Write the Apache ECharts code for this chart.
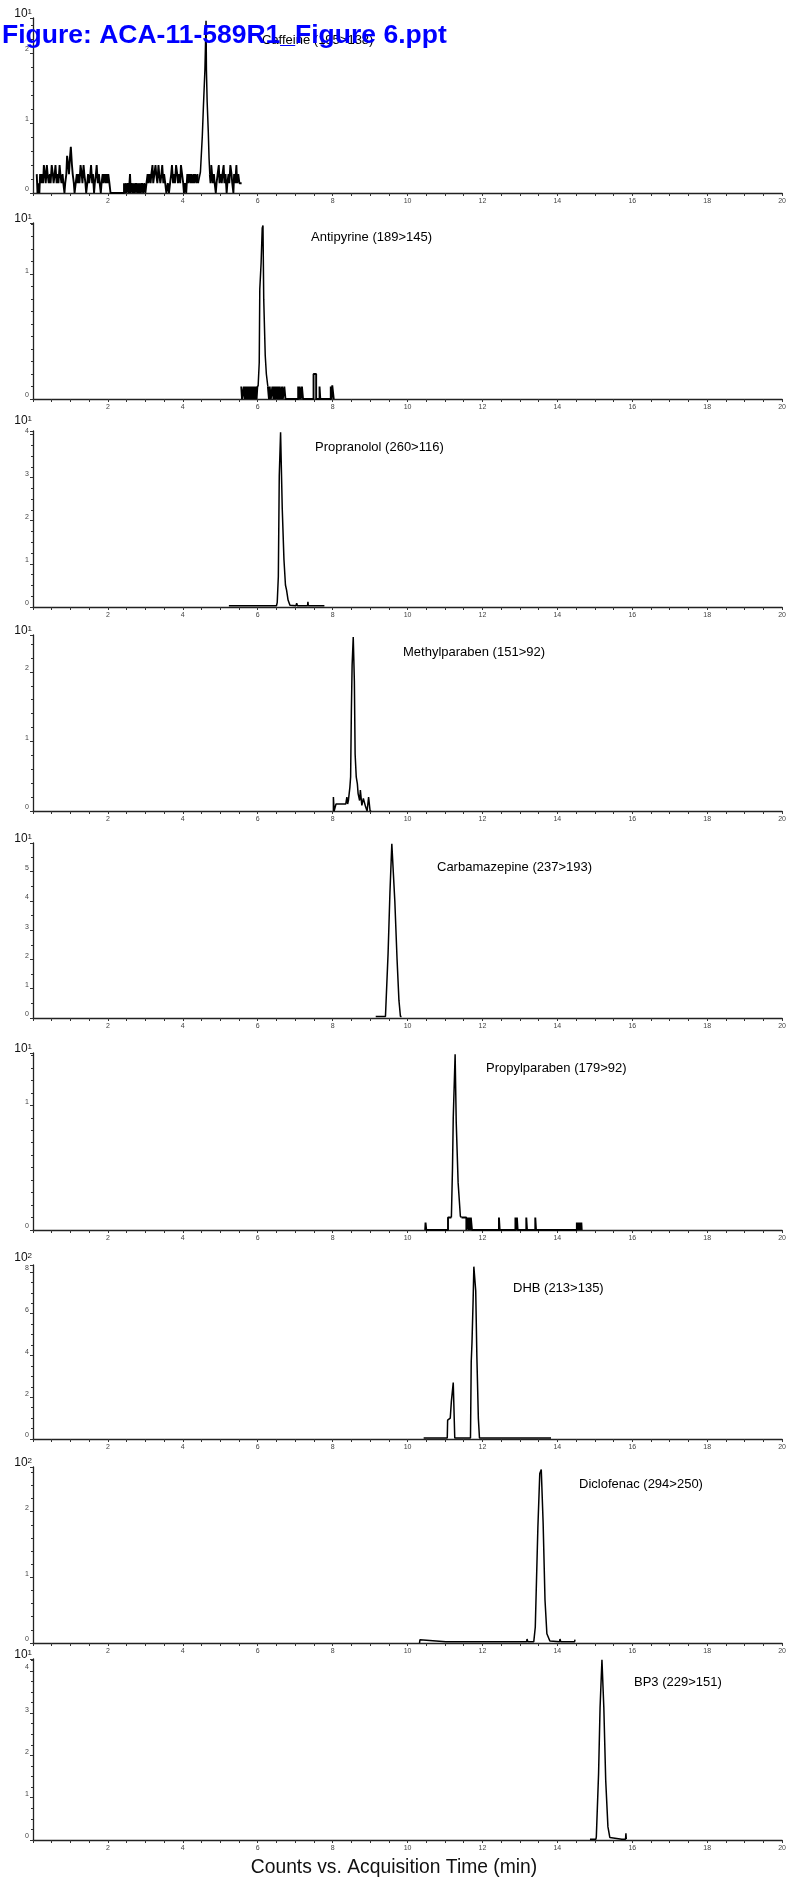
<!DOCTYPE html>
<html>
<head>
<meta charset="utf-8">
<title>Figure 6</title>
<script src="https://cdn.jsdelivr.net/npm/echarts@6/dist/echarts.min.js"></script>
<style>
  html, body { margin: 0; padding: 0; background: #fff; }
  #chart { width: 789px; height: 1889px; }
</style>
</head>
<body>
<div id="chart"></div>
<script>
// panel labels and y scale (values are in units of 10^exp counts)
var panelNames = ['Caffeine (195>138)', 'Antipyrine (189>145)', 'Propranolol (260>116)', 'Methylparaben (151>92)',
  'Carbamazepine (237>193)', 'Propylparaben (179>92)', 'DHB (213>135)', 'Diclofenac (294>250)', 'BP3 (229>151)'];
var yExp = [1, 1, 1, 1, 1, 1, 2, 2, 1];
var yMax = [2.5, 1.41, 4.08, 2.53, 5.98, 1.42, 8.33, 2.68, 4.28];
var yStep = [1, 1, 1, 1, 1, 1, 2, 1, 1];
var yMinor = [5, 10, 4, 5, 2, 10, 4, 5, 4];
var xTicks = [2, 4, 6, 8, 10, 12, 14, 16, 18, 20];

// caffeine: noisy baseline, peak, tail
var caffeineNoise = [[0.10,0.27],[0.12,0],[0.15,0.14],[0.17,0],[0.19,0.27],[0.22,0.14],[0.24,0.27],[0.27,0.14],[0.29,0.4],[0.32,0.27],
  [0.34,0.14],[0.37,0.4],[0.39,0.27],[0.42,0.14],[0.45,0.27],[0.47,0.14],[0.5,0.4],[0.53,0.27],[0.55,0.14],[0.58,0.27],
  [0.6,0.4],[0.63,0.14],[0.66,0.27],[0.68,0.14],[0.71,0.4],[0.73,0.27],[0.76,0.14],[0.79,0.27],[0.81,0.14],[0.84,0],
  [0.86,0.14],[0.89,0.27],[0.91,0.53],[0.94,0.4],[0.96,0.27],[0.99,0.53],[1.01,0.66],[1.04,0.4],[1.06,0.27],[1.09,0.14],
  [1.11,0],[1.14,0.14],[1.17,0.27],[1.19,0.14],[1.22,0.27],[1.24,0.14],[1.27,0.4],[1.3,0.27],[1.32,0.14],[1.35,0.4],
  [1.37,0.27],[1.4,0.14],[1.42,0],[1.45,0.14],[1.47,0.27],[1.5,0.14],[1.53,0.27],[1.55,0.4],[1.58,0.14],[1.6,0.27],
  [1.63,0],[1.65,0.14],[1.68,0.27],[1.7,0.4],[1.73,0.14],[1.76,0.27],[1.78,0.14],[1.81,0],[1.83,0.14],[1.86,0.27],
  [1.88,0.14],[1.91,0.27],[1.94,0.14],[1.96,0.27],[1.99,0.14],[2.01,0.27],[2.04,0.14],[2.07,0],
  [2.43,0.14],[2.45,0],[2.48,0.14],[2.5,0],[2.53,0.14],[2.56,0],[2.59,0.27],[2.61,0],[2.64,0.14],[2.67,0],
  [2.7,0.14],[2.72,0],[2.75,0.14],[2.78,0],[2.8,0.14],[2.83,0],[2.86,0.14],[2.88,0],[2.91,0.14],[2.94,0],[2.97,0.14],[3.0,0],
  [3.03,0.14],[3.06,0.27],[3.08,0.14],[3.11,0.27],[3.14,0.14],[3.16,0.27],[3.19,0.4],[3.21,0.14],[3.24,0.27],[3.27,0.4],
  [3.29,0.27],[3.32,0.14],[3.35,0.4],[3.37,0.27],[3.4,0.14],[3.43,0.27],[3.45,0.4],[3.48,0.14],[3.5,0.27],[3.53,0.14],
  [3.56,0],[3.6,0.14],[3.63,0],[3.66,0.14],[3.69,0.27],[3.71,0.4],[3.74,0.14],[3.77,0.27],[3.79,0.14],[3.82,0.4],
  [3.85,0.27],[3.87,0.14],[3.9,0.27],[3.93,0.14],[3.95,0.4],[3.98,0.27],[4.01,0.14],[4.03,0],[4.06,0.14],[4.09,0],
  [4.12,0.27],[4.14,0.14],[4.17,0.27],[4.2,0.14],[4.22,0.27],[4.25,0.14],[4.28,0.27],[4.3,0.14],[4.33,0.27],[4.36,0.14],
  [4.39,0.27],[4.41,0.14]];
var caffeinePeak = [[4.41,0.14],[4.47,0.3],[4.52,0.81],[4.55,1.24],[4.59,1.76],[4.62,2.46],[4.63,1.76],[4.65,1.3],
  [4.68,0.87],[4.7,0.5],[4.72,0.27]];
var caffeineTail = [[4.72,0.27],[4.74,0.14],[4.76,0.4],[4.78,0.27],[4.8,0.14],[4.83,0.27],[4.85,0.14],[4.88,0],
  [4.9,0.14],[4.93,0.27],[4.96,0.4],[4.98,0.14],[5.01,0.27],[5.04,0.14],[5.06,0.27],[5.09,0.4],[5.11,0.14],[5.14,0.27],
  [5.17,0],[5.19,0.14],[5.22,0.27],[5.24,0.14],[5.27,0.4],[5.3,0.27],[5.32,0.14],[5.35,0],[5.37,0.27],[5.4,0.14],
  [5.43,0.4],[5.45,0.14],[5.48,0.27],[5.51,0.14],[5.54,0.14],[5.57,0.14]];

var antipyrineNoise = [[5.56,0.1],[5.58,0],[5.63,0.1],[5.65,0],[5.67,0.1],[5.7,0],[5.72,0.1],[5.74,0],[5.76,0.1],[5.79,0],
  [5.81,0.1],[5.83,0],[5.85,0.1],[5.88,0],[5.9,0.1],[5.92,0],[5.94,0.1],[5.97,0],[5.99,0.1],[6.01,0.1]];
var antipyrinePeak = [[6.01,0.1],[6.04,0.29],[6.055,0.88],[6.09,1.09],[6.12,1.37],[6.14,1.39],[6.16,0.8],[6.2,0.35],
  [6.23,0.2],[6.27,0.1]];
var antipyrineTail = [[6.27,0.1],[6.3,0],[6.32,0.1],[6.35,0],[6.39,0.1],[6.42,0],[6.44,0.1],[6.47,0],[6.49,0.1],[6.52,0],
  [6.54,0.1],[6.57,0],[6.59,0.1],[6.62,0],[6.65,0.1],[6.67,0],[6.71,0.1],[6.74,0],[7.08,0.1],[7.1,0],[7.12,0.1],[7.15,0],
  [7.18,0.1],[7.21,0],[7.49,0.2],[7.56,0],[7.65,0.1],[7.67,0],[7.95,0.1],[7.97,0],[7.99,0.11],[8.03,0]];

var propranololTrace = [[5.23,0.03],[6.5,0.03],[6.52,0.1],[6.55,0.7],[6.575,3.05],[6.61,4.05],[6.655,2.27],[6.7,1.1],
  [6.74,0.51],[6.77,0.39],[6.81,0.16],[6.86,0.04],[7.02,0.03],[7.04,0.09],[7.06,0.03],[7.33,0.03],[7.34,0.12],[7.35,0.03],[7.78,0.03]];

var methylparabenTrace = [[8.02,0],[8.02,0.2],[8.03,0.2],[8.04,0],[8.08,0],[8.09,0.1],[8.35,0.1],[8.38,0.2],[8.4,0.1],
  [8.42,0.15],[8.46,0.34],[8.48,0.49],[8.5,1.44],[8.52,2.1],[8.55,2.5],[8.58,1.87],[8.6,0.82],[8.63,0.49],[8.66,0.39],
  [8.68,0.25],[8.72,0.15],[8.74,0.3],[8.76,0.3],[8.78,0.08],[8.82,0.18],[8.84,0.18],[8.88,0.06],[8.92,0],[8.95,0],
  [8.96,0.2],[8.98,0.2],[9.0,0],[9.03,0]];

var carbamazepineTrace = [[9.15,0.05],[9.41,0.05],[9.48,2.2],[9.53,4.3],[9.58,5.95],[9.6,5.9],[9.66,4.0],[9.72,2.0],
  [9.77,0.6],[9.81,0.05],[9.84,0.05]];

var propylparabenNoise = [[10.47,0],[10.48,0.06],[10.5,0],[11.08,0.1],[11.17,0.1]];
var propylparabenPeak = [[11.17,0.1],[11.2,0.5],[11.22,0.9],[11.27,1.41],[11.3,0.86],[11.35,0.38],[11.37,0.38],
  [11.41,0.11],[11.44,0.1]];
var propylparabenTail = [[11.44,0.1],[11.57,0],[11.61,0.1],[11.63,0],[11.65,0.1],[11.67,0],[11.69,0.1],[11.72,0],
  [12.44,0.1],[12.46,0],[12.88,0.1],[12.9,0],[12.92,0.1],[12.94,0],[13.17,0.1],[13.19,0],[13.41,0.1],[13.43,0],
  [14.52,0.06],[14.54,0],[14.56,0.06],[14.58,0],[14.6,0.06],[14.62,0],[14.64,0.06],[14.65,0]];

var dhbTrace = [[10.43,0.05],[11.06,0.05],[11.07,0.9],[11.1,0.9],[11.14,1.0],[11.17,1.8],[11.19,1.8],[11.22,2.7],
  [11.23,2.7],[11.26,0.05],[11.68,0.05],[11.7,3.7],[11.72,4.6],[11.75,6.6],[11.77,8.25],[11.81,8.25],[11.82,7.1],
  [11.85,4.0],[11.89,1.0],[11.92,0.05],[13.83,0.05]];

var diclofenacTrace = [[10.32,0],[10.33,0.05],[10.35,0.02],[11.02,0.02],[11.03,0.04],[11.05,0.02],[11.76,0.02],
  [11.77,0.04],[11.79,0.02],[12.84,0.02],[12.85,0.04],[12.87,0.02],[13.18,0.02],[13.19,0.06],[13.21,0.02],[13.37,0.02],
  [13.41,0.24],[13.48,1.77],[13.53,2.58],[13.57,2.64],[13.62,1.82],[13.67,0.65],[13.72,0.14],[13.8,0.03],[14.06,0.02],
  [14.07,0.06],[14.09,0.02],[14.46,0.02],[14.47,0.05],[14.48,0]];

var bp3Trace = [[14.87,0.02],[15.03,0.02],[15.04,0.08],[15.1,1.57],[15.14,3.14],[15.19,4.26],[15.24,3.14],[15.29,1.42],
  [15.35,0.31],[15.4,0.06],[15.72,0.02],[15.82,0.02],[15.83,0.16],[15.84,0.02]];

// stepped (quantised noise) and plain traces for each panel
var steppedByPanel = [[caffeineNoise, caffeineTail], [antipyrineNoise, antipyrineTail], [], [], [],
  [propylparabenNoise, propylparabenTail], [], [], []];
var linesByPanel = [[caffeinePeak], [antipyrinePeak], [propranololTrace], [methylparabenTrace], [carbamazepineTrace],
  [propylparabenPeak], [dhbTrace], [diclofenacTrace], [bp3Trace]];

// layout (pixels)
var gridTop = [18, 223, 431, 635, 843, 1053, 1265, 1467, 1659];
var gridHeight = [175, 176, 176, 176, 175, 177, 174, 176, 181];
var labelX = [262, 311, 315, 403, 437, 486, 513, 579, 634];
var labelY = [40, 237, 447, 652, 867, 1068, 1288, 1484, 1682];

var FONT = 'Liberation Sans, Arial, sans-serif';
var chart = echarts.init(document.getElementById('chart'), null, {renderer: 'canvas'});

var grids = [], xAxes = [], yAxes = [], series = [], graphics = [];

for (var i = 0; i < panelNames.length; i++) {
  grids.push({left: 33, width: 750, top: gridTop[i], height: gridHeight[i]});

  xAxes.push({
    type: 'value', gridIndex: i, min: 0, max: 20, interval: 0.5,
    axisLine: {show: true, onZero: false, lineStyle: {color: '#222', width: 1.3}},
    axisTick: {show: true, length: 3, lineStyle: {color: '#333', width: 1}},
    splitLine: {show: false},
    axisLabel: {
      fontSize: 7, color: '#444', margin: 5, fontFamily: FONT,
      formatter: function (v) { return xTicks.indexOf(v) >= 0 ? String(v) : ''; }
    }
  });

  yAxes.push({
    type: 'value', gridIndex: i, min: 0, max: yMax[i], interval: yStep[i],
    axisLine: {show: true, onZero: false, lineStyle: {color: '#222', width: 1.3}},
    axisTick: {show: true, length: 3, lineStyle: {color: '#333', width: 1}},
    minorTick: {show: true, splitNumber: yMinor[i], length: 2, lineStyle: {color: '#333', width: 1}},
    splitLine: {show: false},
    axisLabel: {
      fontSize: 7, color: '#444', margin: 4, verticalAlign: 'bottom', fontFamily: FONT,
      formatter: function (v) { return Number.isInteger(v) ? String(v) : ''; }
    },
    name: '10{s|' + yExp[i] + '}',
    nameLocation: 'end',
    nameGap: 4,
    nameTextStyle: {
      fontSize: 12, color: '#111', fontFamily: FONT, align: 'right', verticalAlign: 'middle',
      padding: [0, 1, 0, 0],
      rich: {s: {fontSize: 8, color: '#111', fontFamily: FONT, verticalAlign: 'top', lineHeight: 8, padding: [0, 0, 5, 0]}}
    }
  });

  // quantised noise is drawn as a step trace, a bit heavier like the original
  steppedByPanel[i].forEach(function (d) {
    series.push({
      type: 'line', xAxisIndex: i, yAxisIndex: i, data: d, step: 'end',
      symbol: 'none', silent: true, animation: false,
      lineStyle: {color: '#000', width: 1.9}
    });
  });
  linesByPanel[i].forEach(function (d) {
    series.push({
      type: 'line', xAxisIndex: i, yAxisIndex: i, data: d,
      symbol: 'none', silent: true, animation: false,
      lineStyle: {color: '#000', width: 1.5}
    });
  });

  graphics.push({
    type: 'text', x: labelX[i], y: labelY[i], z: 10,
    style: {text: panelNames[i], font: '13px ' + FONT, fill: '#000', verticalAlign: 'middle'}
  });
}

// x axis title
graphics.push({
  type: 'text', x: 394, y: 1868, z: 10,
  style: {text: 'Counts vs. Acquisition Time (min)', font: '19.3px ' + FONT, fill: '#111', align: 'center', verticalAlign: 'middle'}
});
// blue file header drawn over the first panel
graphics.push({
  type: 'text', x: 2, y: 36, z: 100,
  style: {text: 'Figure: ACA-11-589R1_Figure 6.ppt', font: 'bold 26.5px ' + FONT, fill: '#0000ff', verticalAlign: 'middle'}
});

chart.setOption({
  backgroundColor: '#fff',
  animation: false,
  grid: grids,
  xAxis: xAxes,
  yAxis: yAxes,
  series: series,
  graphic: graphics
});
</script>
</body>
</html>
